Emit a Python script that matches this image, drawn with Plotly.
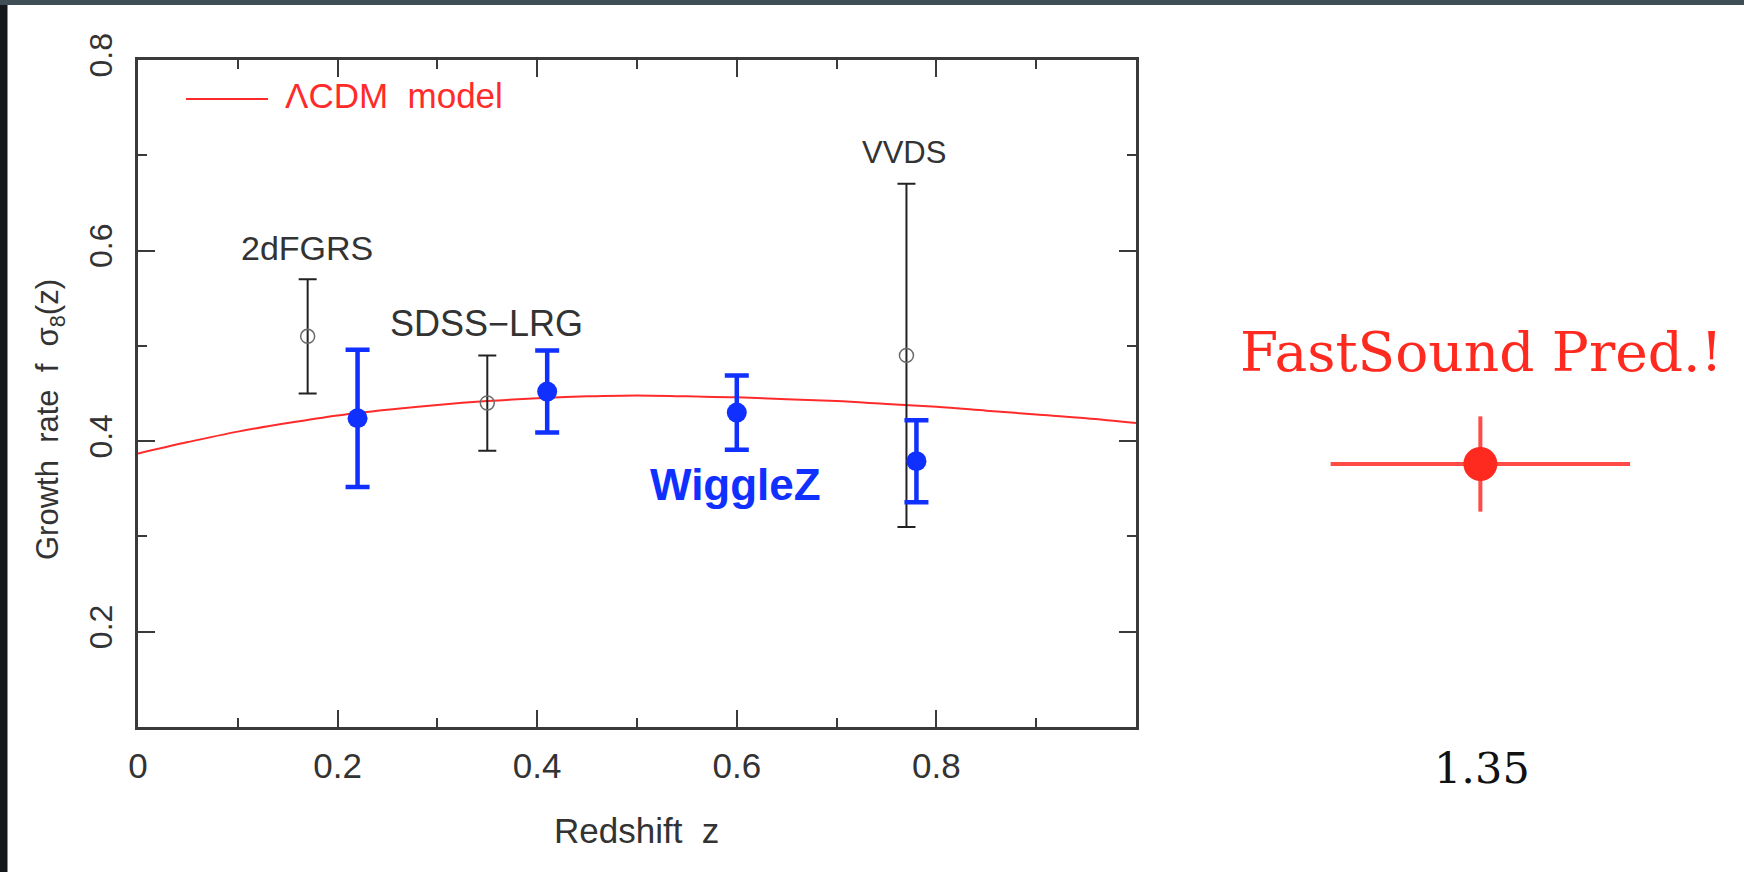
import plotly.graph_objects as go

# ---------------- data ----------------
# Lambda-CDM model curve
lcdm_z = [0.0, 0.05, 0.1, 0.15, 0.2, 0.25, 0.3, 0.35, 0.4, 0.45, 0.5,
          0.55, 0.6, 0.65, 0.7, 0.75, 0.8, 0.85, 0.9, 0.95, 1.0]
lcdm_fs8 = [0.387, 0.399, 0.410, 0.419, 0.427, 0.433, 0.438, 0.442, 0.445, 0.447, 0.448,
            0.447, 0.446, 0.444, 0.442, 0.439, 0.436, 0.432, 0.428, 0.424, 0.419]

# other surveys (open circles)
other_names = ["2dFGRS", "SDSS\u2212LRG", "VVDS"]
other_z = [0.17, 0.35, 0.77]
other_fs8 = [0.51, 0.44, 0.49]
other_err = [0.06, 0.05, 0.18]

# WiggleZ (filled blue)
wig_z = [0.22, 0.41, 0.60, 0.78]
wig_fs8 = [0.424, 0.452, 0.430, 0.379]
wig_err = [0.072, 0.043, 0.039, 0.043]

# FastSound prediction
fs_z = [1.345]
fs_fs8 = [0.376]
fs_zerr = [0.15]
fs_err = [0.05]

x_ticks = [0, 0.2, 0.4, 0.6, 0.8]
x_ticktext = ["0", "0.2", "0.4", "0.6", "0.8"]
x_minor = [0.1, 0.3, 0.5, 0.7, 0.9]
y_ticks = [0.2, 0.4, 0.6, 0.8]
y_ticktext = ["0.2", "0.4", "0.6", "0.8"]
y_minor = [0.3, 0.5, 0.7]

# ---------------- layout geometry ----------------
FW, FH = 1744, 872
L, R, T, B = 138, 59, 60, 145
W = FW - L - R
HP = FH - T - B
split = 998 / W  # fraction of plot width used by main axes (z 0..1)


def px(x):
    return (x - L) / W


def py(y):
    return (FH - B - y) / HP


AX = "#3a3a3a"
TXT = "#333333"
RED = "#ff2b2b"
BLUE = "#0f30ff"
SANS = "Liberation Sans, Arial, sans-serif"
SERIF = "DejaVu Serif, serif"

fig = go.Figure()

fig.add_trace(go.Scatter(
    x=lcdm_z, y=lcdm_fs8, mode="lines", line=dict(color=RED, width=2, shape="spline"),
    name="\u039bCDM model", showlegend=False, hoverinfo="skip"))

fig.add_trace(go.Scatter(
    x=other_z, y=other_fs8, mode="markers",
    marker=dict(symbol="circle-open", size=14, color="#6a6a6a", line=dict(width=1.5, color="#6a6a6a")),
    error_y=dict(type="data", array=other_err, visible=True, thickness=2, width=9, color="#222222"),
    showlegend=False))

fig.add_trace(go.Scatter(
    x=wig_z, y=wig_fs8, mode="markers",
    marker=dict(symbol="circle", size=20, color=BLUE),
    error_y=dict(type="data", array=wig_err, visible=True, thickness=4.5, width=12, color=BLUE),
    showlegend=False))

fig.add_trace(go.Scatter(
    x=fs_z, y=fs_fs8, mode="markers", xaxis="x2", yaxis="y",
    marker=dict(symbol="circle", size=34, color="#ff2a1f"),
    error_y=dict(type="data", array=fs_err, visible=True, thickness=4, width=0, color="#ff4a45"),
    error_x=dict(type="data", array=fs_zerr, visible=True, thickness=4, width=0, color="#ff4a45"),
    showlegend=False))

fig.update_layout(
    width=FW, height=FH,
    margin=dict(l=L, r=R, t=T, b=B, pad=0),
    paper_bgcolor="white", plot_bgcolor="white",
    showlegend=False,
    xaxis=dict(
        domain=[0, split], range=[0, 1], showgrid=False, zeroline=False,
        showline=True, linecolor=AX, linewidth=2.5, mirror="ticks",
        ticks="inside", ticklen=17, tickwidth=2, tickcolor=AX,
        tickmode="array", tickvals=x_ticks, ticktext=x_ticktext,
        tickfont=dict(family=SANS, size=35, color=TXT), ticklabelstandoff=6,
        minor=dict(tickmode="array", tickvals=x_minor, ticks="inside", ticklen=9,
                   tickwidth=2, tickcolor=AX, showgrid=False),
        anchor="y"),
    xaxis2=dict(
        domain=[split, 1], range=[1.0, 1.55], visible=False, anchor="y"),
    yaxis=dict(
        domain=[0, 1], range=[0.1, 0.8], showgrid=False, zeroline=False,
        showline=True, linecolor=AX, linewidth=2.5, mirror="ticks",
        ticks="inside", ticklen=17, tickwidth=2, tickcolor=AX,
        tickmode="array", tickvals=y_ticks, ticktext=y_ticktext,
        tickfont=dict(family=SANS, size=32, color=TXT), tickangle=-90,
        ticklabelstandoff=10,
        minor=dict(tickmode="array", tickvals=y_minor, ticks="inside", ticklen=9,
                   tickwidth=2, tickcolor=AX, showgrid=False),
        anchor="x"),
)

shapes = [
    # slide background edges
    dict(type="rect", xref="paper", yref="paper", x0=px(0), x1=px(7.5), y0=py(FH), y1=py(0),
         fillcolor="#15191b", line=dict(width=0), layer="below"),
    dict(type="rect", xref="paper", yref="paper", x0=px(0), x1=px(FW), y0=py(5), y1=py(0),
         fillcolor="#3f4f55", line=dict(width=0), layer="below"),
    # legend sample line
    dict(type="line", xref="paper", yref="paper", x0=px(186), x1=px(268), y0=py(99), y1=py(99),
         line=dict(color=RED, width=2)),
    # extended z baseline to 1.35
    dict(type="line", xref="x2", yref="y", x0=1.0, x1=1.345, y0=0.098, y1=0.097,
         line=dict(color="#111111", width=3)),
]
fig.update_layout(shapes=shapes)

anns = [
    dict(text="\u039bCDM  model", xref="paper", yref="paper", x=px(283), y=py(96),
         xanchor="left", yanchor="middle", showarrow=False,
         font=dict(family=SANS, size=35, color=RED)),
    dict(text="Growth  rate  f  \u03c3<sub>8</sub>(z)", xref="paper", yref="paper",
         x=px(50), y=py(420), textangle=-90, showarrow=False,
         xanchor="center", yanchor="middle", font=dict(family=SANS, size=31, color=TXT)),
    dict(text="Redshift  z", xref="paper", yref="paper", x=px(636), y=py(830),
         showarrow=False, xanchor="center", yanchor="middle",
         font=dict(family=SANS, size=35, color=TXT)),
    dict(text="WiggleZ", xref="x", yref="y", x=0.599, y=0.354, showarrow=False,
         xanchor="center", yanchor="middle",
         font=dict(family=SANS, size=44, color=BLUE, weight="bold")),
    dict(text="FastSound Pred.!", xref="x2", yref="y", x=1.346, y=0.494, showarrow=False,
         xanchor="center", yanchor="middle", font=dict(family=SERIF, size=55, color="#ff2a1f")),
    dict(text="1.35", xref="x2", yref="paper", x=1.347, y=py(768), showarrow=False,
         xanchor="center", yanchor="middle", font=dict(family=SERIF, size=43, color="#111111")),
]
label_pos = [(0.169, 0.603), (0.349, 0.523), (0.768, 0.703)]
label_size = [34, 36, 31]
for name, (lx, ly), sz in zip(other_names, label_pos, label_size):
    anns.append(dict(text=name, xref="x", yref="y", x=lx, y=ly, showarrow=False,
                     xanchor="center", yanchor="middle",
                     font=dict(family=SANS, size=sz, color=TXT)))
fig.update_layout(annotations=anns)

fig.write_html("out.html", config={"displayModeBar": False},
               post_script="document.body.style.margin='0';document.body.style.overflow='hidden';")
